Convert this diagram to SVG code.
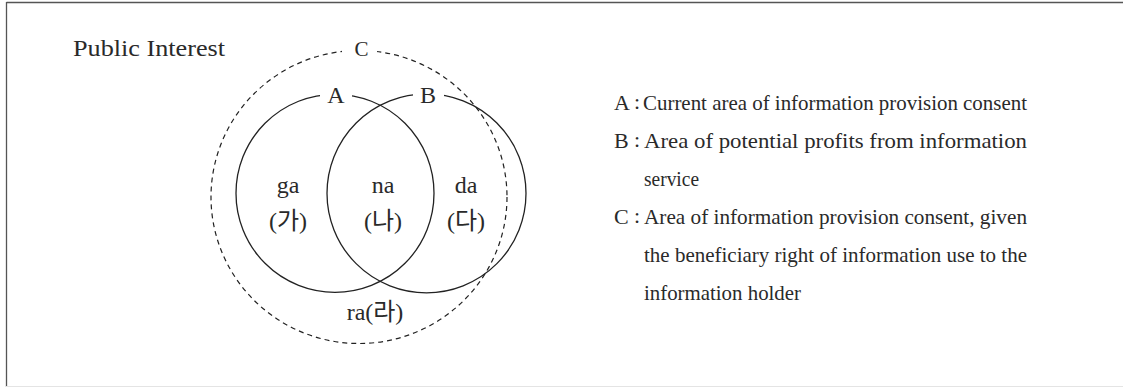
<svg xmlns="http://www.w3.org/2000/svg" width="1123" height="387" viewBox="0 0 1123 387">
<style>
.t{font-family:"Liberation Serif","Noto Sans CJK KR",serif;fill:#2a2a2a}
.c{fill:none;stroke:#222;stroke-width:1.3}
.d{fill:none;stroke:#222;stroke-width:1.2;stroke-dasharray:5 4}
.gap{fill:#fff}
</style>
<rect width="1123" height="387" fill="#fff"/>
<g id="frame">
<line x1="6.5" y1="2.5" x2="1123" y2="2.5" stroke="#555" stroke-width="1.3"/>
<line x1="6.5" y1="2" x2="6.5" y2="387" stroke="#555" stroke-width="1.3"/>
<line x1="6" y1="386.5" x2="1123" y2="386.5" stroke="#e4e4e4" stroke-width="1"/>
</g>
<g id="title"><text class="t" x="73" y="55.5" font-size="24" textLength="152" lengthAdjust="spacingAndGlyphs">Public Interest</text></g>
<g id="connectors"></g>
<g id="circleC">
<ellipse class="d" cx="359" cy="197" rx="148" ry="146.5"/>
<rect class="gap" x="342" y="38" width="35" height="22"/>
<text class="t" x="361.5" y="55.5" font-size="21" text-anchor="middle">C</text>
</g>
<g id="circleA">
<circle class="c" cx="335" cy="193.3" r="99"/>
</g>
<g id="circleB">
<circle class="c" cx="426.5" cy="193.3" r="99.5"/>
</g>
<g id="labelA">
<rect class="gap" x="320" y="84" width="32" height="20"/>
<text class="t" x="336" y="103" font-size="24" text-anchor="middle">A</text>
</g>
<g id="labelB">
<rect class="gap" x="413" y="84" width="31" height="20"/>
<text class="t" x="428" y="103" font-size="24" text-anchor="middle">B</text>
</g>
<g id="regionGa">
<text class="t" x="288" y="193" font-size="24" text-anchor="middle">ga</text>
<text class="t" x="288" y="229" font-size="24" text-anchor="middle">(가)</text>
</g>
<g id="regionNa">
<text class="t" x="383" y="193" font-size="24" text-anchor="middle">na</text>
<text class="t" x="383" y="229" font-size="24" text-anchor="middle">(나)</text>
</g>
<g id="regionDa">
<text class="t" x="466" y="193" font-size="24" text-anchor="middle">da</text>
<text class="t" x="466" y="229" font-size="24" text-anchor="middle">(다)</text>
</g>
<g id="regionRa">
<text class="t" x="375" y="320" font-size="24" text-anchor="middle">ra(라)</text>
</g>
<g id="legend" font-size="22">
<text class="t" x="614" y="110">A</text><text class="t" x="634" y="109">:</text>
<text class="t" x="643" y="110" textLength="384" lengthAdjust="spacingAndGlyphs">Current area of information provision consent</text>
<text class="t" x="614" y="148">B</text><text class="t" x="634" y="147">:</text>
<text class="t" x="644" y="148" textLength="383" lengthAdjust="spacingAndGlyphs">Area of potential profits from information</text>
<text class="t" x="644" y="186" textLength="55" lengthAdjust="spacingAndGlyphs">service</text>
<text class="t" x="614" y="224">C</text><text class="t" x="634" y="223">:</text>
<text class="t" x="644" y="224" textLength="383" lengthAdjust="spacingAndGlyphs">Area of information provision consent, given</text>
<text class="t" x="644" y="262" textLength="383" lengthAdjust="spacingAndGlyphs">the beneficiary right of information use to the</text>
<text class="t" x="644" y="300" textLength="157" lengthAdjust="spacingAndGlyphs">information holder</text>
</g>
</svg>
